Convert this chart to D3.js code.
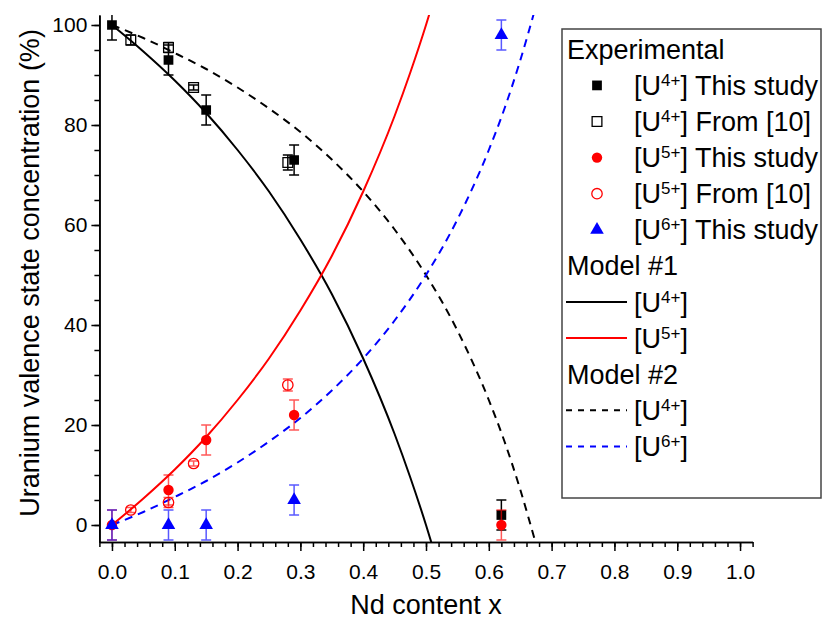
<!DOCTYPE html>
<html>
<head>
<meta charset="utf-8">
<script src="https://cdn.jsdelivr.net/npm/d3@7/dist/d3.min.js"></script>
<style>
  body { margin: 0; background: #fff; }
  svg { display: block; font-family: 'Liberation Sans', Arial, sans-serif; }
</style>
</head>
<body>
<div id="chart"></div>
<script>
// experimental points (x = Nd content, y = %, err = +/-)
var u4StudyX = [0, 0.09, 0.15, 0.29, 0.62];
var u4StudyY = [100, 93, 83, 73, 2];
var u4StudyErr = [3, 3, 3, 3, 3];

var u4RefX = [0.03, 0.09, 0.13, 0.28];
var u4RefY = [97, 95.5, 87.5, 72.5];
var u4RefErr = [1, 1, 0.5, 1.5];

var u5StudyX = [0, 0.09, 0.15, 0.29, 0.62];
var u5StudyY = [0, 7, 17, 22, 0];
var u5StudyErr = [3, 3, 3, 3, 3];

var u5RefX = [0.03, 0.09, 0.13, 0.28];
var u5RefY = [3, 4.5, 12.3, 28];
var u5RefErr = [0.5, 1, 0.5, 1.2];

var u6StudyX = [0, 0.09, 0.15, 0.29, 0.62];
var u6StudyY = [0, 0, 0, 5, 98];
var u6StudyErr = [3, 3, 3, 3, 3];

// model curves
var model1X = [0, 0.05, 0.1, 0.15, 0.2, 0.25, 0.3, 0.35, 0.4, 0.45, 0.475, 0.5, 0.51];
var model1U4 = [100, 94.7, 88.9, 82.4, 75, 66.7, 57.1, 46.2, 33.3, 18.2, 9.5, 0, -4.1];
var model1U5 = [0, 5.3, 11.1, 17.6, 25, 33.3, 42.9, 53.8, 66.7, 81.8, 90.5, 100, 104.1];

var model2X = [0, 0.05, 0.1, 0.15, 0.2, 0.25, 0.3, 0.35, 0.4, 0.45, 0.5, 0.55, 0.6, 0.625, 0.65, 0.675];
var model2U4 = [100, 97.4, 94.4, 91.2, 87.5, 83.3, 78.6, 73.1, 66.7, 59.1, 50, 38.9, 25, 16.7, 7.1, -3.8];
var model2U6 = [0, 2.6, 5.6, 8.8, 12.5, 16.7, 21.4, 26.9, 33.3, 40.9, 50, 61.1, 75, 83.3, 92.9, 103.8];

var xTicks = [0, 0.1, 0.2, 0.3, 0.4, 0.5, 0.6, 0.7, 0.8, 0.9, 1.0];
var yTicks = [0, 20, 40, 60, 80, 100];

var width = 823;
var height = 619;

var svg = d3.select('#chart').append('svg')
    .attr('width', width)
    .attr('height', height);

var x = d3.scaleLinear()
    .domain([-0.02, 1.02])
    .range([99.4, 752.6]);

var y = d3.scaleLinear()
    .domain([-3.4, 102])
    .range([542, 15]);

svg.append('defs').append('clipPath')
    .attr('id', 'plot-clip')
  .append('rect')
    .attr('x', x.range()[0])
    .attr('y', y.range()[1])
    .attr('width', x.range()[1] - x.range()[0])
    .attr('height', y.range()[0] - y.range()[1]);

// axes: minor ticks first, then majors with labels
var xMinor = d3.range(-0.02, 1.021, 0.02);
var yMinor = d3.range(0, 101, 5);

function styleAxis(g) {
  g.select('.domain').style('stroke', '#000').style('stroke-width', 1.6);
  g.selectAll('.tick line').style('stroke', '#000').style('stroke-width', 1.5);
  g.selectAll('.tick text')
      .style('fill', '#000')
      .style('font-family', "'Liberation Sans', Arial, sans-serif")
      .style('font-size', '21px');
}

svg.append('g')
    .attr('transform', 'translate(0,' + y.range()[0] + ')')
    .call(d3.axisBottom(x).tickValues(xMinor).tickSize(5).tickSizeOuter(0).tickFormat(''))
    .call(styleAxis);

svg.append('g')
    .attr('transform', 'translate(0,' + y.range()[0] + ')')
    .call(d3.axisBottom(x).tickValues(xTicks).tickSize(9).tickSizeOuter(0)
      .tickPadding(13).tickFormat(d3.format('.1f')))
    .call(styleAxis);

svg.append('g')
    .attr('transform', 'translate(' + x.range()[0] + ',0)')
    .call(d3.axisLeft(y).tickValues(yMinor).tickSize(5).tickSizeOuter(0).tickFormat(''))
    .call(styleAxis);

svg.append('g')
    .attr('transform', 'translate(' + x.range()[0] + ',0)')
    .call(d3.axisLeft(y).tickValues(yTicks).tickSize(8).tickSizeOuter(0).tickPadding(4))
    .call(styleAxis);

svg.append('text')
    .attr('x', x(0.5))
    .attr('y', 614)
    .attr('text-anchor', 'middle')
    .style('font-size', '27px')
    .text('Nd content x');

svg.append('text')
    .attr('transform', 'translate(39,273) rotate(-90)')
    .attr('text-anchor', 'middle')
    .style('font-size', '27px')
    .text('Uranium valence state concentration (%)');

var plot = svg.append('g')
    .attr('clip-path', 'url(#plot-clip)');

// model curves
var line = d3.line()
    .x(function (d) { return x(d[0]); })
    .y(function (d) { return y(d[1]); })
    .curve(d3.curveMonotoneX);

function addCurve(xs, ys, color, dash) {
  plot.append('path')
      .datum(d3.zip(xs, ys))
      .attr('d', line)
      .style('fill', 'none')
      .style('stroke', color)
      .style('stroke-width', 2)
      .style('stroke-dasharray', dash || null);
}

addCurve(model1X, model1U4, '#000');
addCurve(model1X, model1U5, '#ff0000');
addCurve(model2X, model2U4, '#000', '8,6');
addCurve(model2X, model2U6, '#0000ff', '8,6');

// experimental series with error bars
var symbols = {
  square: d3.symbol().type(d3.symbolSquare).size(95),
  circle: d3.symbol().type(d3.symbolCircle).size(85),
  triangle: d3.symbol().type(d3.symbolTriangle).size(80)
};

function addSeries(xs, ys, errs, shape, color, filled) {
  var pts = d3.zip(xs, ys, errs);
  var g = plot.append('g');

  var bars = g.selectAll('g.err')
      .data(pts)
    .enter().append('g')
      .attr('class', 'err')
      .style('stroke', color)
      .style('stroke-width', 1.5)
      .style('opacity', color === '#000' ? 1 : 0.65);

  bars.append('line')
      .attr('x1', function (d) { return x(d[0]); })
      .attr('x2', function (d) { return x(d[0]); })
      .attr('y1', function (d) { return y(d[1] - d[2]); })
      .attr('y2', function (d) { return y(d[1] + d[2]); });

  [-1, 1].forEach(function (s) {
    bars.append('line')
        .attr('x1', function (d) { return x(d[0]) - 5; })
        .attr('x2', function (d) { return x(d[0]) + 5; })
        .attr('y1', function (d) { return y(d[1] + s * d[2]); })
        .attr('y2', function (d) { return y(d[1] + s * d[2]); });
  });

  g.selectAll('path')
      .data(pts)
    .enter().append('path')
      .attr('d', symbols[shape])
      .attr('transform', function (d) { return 'translate(' + x(d[0]) + ',' + y(d[1]) + ')'; })
      .style('fill', filled ? color : 'none')
      .style('stroke', color)
      .style('stroke-width', filled ? 0 : 1.3);
}

addSeries(u4StudyX, u4StudyY, u4StudyErr, 'square', '#000', true);
addSeries(u4RefX, u4RefY, u4RefErr, 'square', '#000', false);
addSeries(u5StudyX, u5StudyY, u5StudyErr, 'circle', '#ff0000', true);
addSeries(u5RefX, u5RefY, u5RefErr, 'circle', '#ff0000', false);
addSeries(u6StudyX, u6StudyY, u6StudyErr, 'triangle', '#0000ff', true);

// legend
var legendRows = [
  { title: 'Experimental' },
  { shape: 'square', color: '#000', filled: true, ion: '4+', label: ' This study' },
  { shape: 'square', color: '#000', filled: false, ion: '4+', label: ' From [10]' },
  { shape: 'circle', color: '#ff0000', filled: true, ion: '5+', label: ' This study' },
  { shape: 'circle', color: '#ff0000', filled: false, ion: '5+', label: ' From [10]' },
  { shape: 'triangle', color: '#0000ff', filled: true, ion: '6+', label: ' This study' },
  { title: 'Model #1' },
  { line: '#000', ion: '4+', label: '' },
  { line: '#ff0000', ion: '5+', label: '' },
  { title: 'Model #2' },
  { line: '#000', dash: '6,6', ion: '4+', label: '' },
  { line: '#0000ff', dash: '6,6', ion: '6+', label: '' }
];

var legend = svg.append('g');

legend.append('rect')
    .attr('x', 562)
    .attr('y', 29)
    .attr('width', 259)
    .attr('height', 469)
    .style('fill', '#fff')
    .style('stroke', '#444')
    .style('stroke-width', 1.5);

legendRows.forEach(function (row, i) {
  var cy = 49.3 + i * 36.1;

  if (row.title) {
    legend.append('text')
        .attr('x', 567)
        .attr('y', cy + 9.5)
        .style('font-size', '27px')
        .text(row.title);
    return;
  }

  if (row.shape) {
    legend.append('path')
        .attr('d', symbols[row.shape])
        .attr('transform', 'translate(597,' + cy + ')')
        .style('fill', row.filled ? row.color : '#fff')
        .style('stroke', row.color)
        .style('stroke-width', row.filled ? 0 : 1.3);
  } else {
    legend.append('line')
        .attr('x1', 566)
        .attr('x2', 627)
        .attr('y1', cy)
        .attr('y2', cy)
        .style('stroke', row.line)
        .style('stroke-width', 2)
        .style('stroke-dasharray', row.dash || null);
  }

  var t = legend.append('text')
      .attr('x', 634)
      .attr('y', cy + 9.5)
      .style('font-size', '27px');
  t.append('tspan').text('[U');
  t.append('tspan')
      .attr('dy', -9)
      .style('font-size', '17px')
      .text(row.ion);
  t.append('tspan')
      .attr('dy', 9)
      .text(']' + row.label);
});
</script>
</body>
</html>
